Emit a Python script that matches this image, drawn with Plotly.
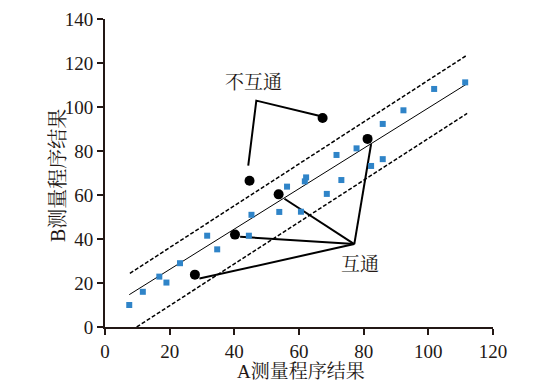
import plotly.graph_objects as go

# Blue squares: paired results (A, B)
sq_x = [7.5, 11.7, 16.8, 19.0, 23.2, 31.6, 34.7, 44.5, 45.3, 53.9, 56.3, 60.6, 61.8, 62.2,
        68.6, 73.1, 71.6, 77.8, 82.3, 85.9, 85.9, 92.3, 101.8, 111.4]
sq_y = [10.0, 16.0, 22.9, 20.2, 29.0, 41.5, 35.3, 41.5, 51.0, 52.3, 63.8, 52.4, 66.2, 68.0,
        60.5, 66.8, 78.2, 81.2, 73.2, 76.3, 92.3, 98.5, 108.2, 111.2]

# Black circles: highlighted samples
ci_x = [67.3, 81.2, 44.7, 53.7, 40.2, 27.8]
ci_y = [95.0, 85.5, 66.5, 60.3, 42.0, 23.8]

# Regression line and limits (endpoints)
fit_x = [7.5, 111.7]
fit_y = [14.7, 110.3]
up_x = [7.7, 112.0]
up_y = [24.4, 123.6]
lo_x = [9.8, 112.0]
lo_y = [0.0, 97.1]

# Leader lines for annotations
lead_no_x = [44.3, 46.8, 66.5]
lead_no_y = [73.3, 102.9, 95.9]
hub = (77.1, 37.7)
lead_yes_ends = [(55.5, 58.3), (41.8, 41.0), (29.2, 22.0), (82.3, 83.2)]

label_no = "不互通"
label_no_pos = (46.0, 111.0)
label_yes = "互通"
label_yes_pos = (79.0, 28.5)

x_ticks = [0, 20, 40, 60, 80, 100, 120]
y_ticks = [0, 20, 40, 60, 80, 100, 120, 140]
x_title = "A测量程序结果"
y_title = "B测量程序结果"

AX = "#231815"
FONT = "Liberation Serif, Times New Roman, Noto Serif CJK SC, Noto Sans CJK SC, serif"

fig = go.Figure()

fig.add_trace(go.Scatter(x=up_x, y=up_y, mode="lines",
                         line=dict(color="black", width=1.5, dash="4px,2px")))
fig.add_trace(go.Scatter(x=lo_x, y=lo_y, mode="lines",
                         line=dict(color="black", width=1.5, dash="4px,2px")))
fig.add_trace(go.Scatter(x=fit_x, y=fit_y, mode="lines",
                         line=dict(color="black", width=1)))

fig.add_trace(go.Scatter(x=lead_no_x, y=lead_no_y, mode="lines",
                         line=dict(color="black", width=2)))
yx, yy = [], []
for ex, ey in lead_yes_ends:
    yx += [hub[0], ex, None]
    yy += [hub[1], ey, None]
fig.add_trace(go.Scatter(x=yx, y=yy, mode="lines",
                         line=dict(color="black", width=2)))

fig.add_trace(go.Scatter(x=sq_x, y=sq_y, mode="markers",
                         marker=dict(symbol="square", size=6, color="#2f84c8",
                                     line=dict(width=0))))
fig.add_trace(go.Scatter(x=ci_x, y=ci_y, mode="markers",
                         marker=dict(symbol="circle", size=10, color="black",
                                     line=dict(width=0))))

fig.add_annotation(x=label_no_pos[0], y=label_no_pos[1], text=label_no, showarrow=False,
                   font=dict(family=FONT, size=19, color=AX))
fig.add_annotation(x=label_yes_pos[0], y=label_yes_pos[1], text=label_yes, showarrow=False,
                   font=dict(family=FONT, size=19, color=AX))

# Axis titles as paper-anchored text
fig.add_annotation(xref="paper", yref="paper", x=0, y=0.5, xshift=-47, yshift=-3,
                   text=y_title, textangle=-90, showarrow=False,
                   xanchor="center", yanchor="middle",
                   font=dict(family=FONT, size=20, color=AX))
fig.add_annotation(xref="paper", yref="paper", x=0.5, y=0, yshift=-44, xshift=2,
                   text=x_title, showarrow=False,
                   xanchor="center", yanchor="middle",
                   font=dict(family=FONT, size=19, color=AX))

axis_common = dict(showgrid=False, zeroline=False, showline=True, linecolor=AX,
                   linewidth=2, ticks="outside", tickcolor=AX, tickwidth=2, ticklen=6,
                   automargin=False,
                   tickfont=dict(family=FONT, size=19, color=AX))

fig.update_xaxes(range=[0, 120], tickvals=x_ticks, **axis_common)
fig.update_yaxes(range=[0, 140], tickvals=y_ticks, **axis_common)

# page body has an 8px margin, so the figure is sized to fit the window
fig.update_layout(width=543, height=379, showlegend=False,
                  plot_bgcolor="white", paper_bgcolor="white",
                  margin=dict(l=97, r=58, t=11, b=60))

fig.write_html("out.html")
